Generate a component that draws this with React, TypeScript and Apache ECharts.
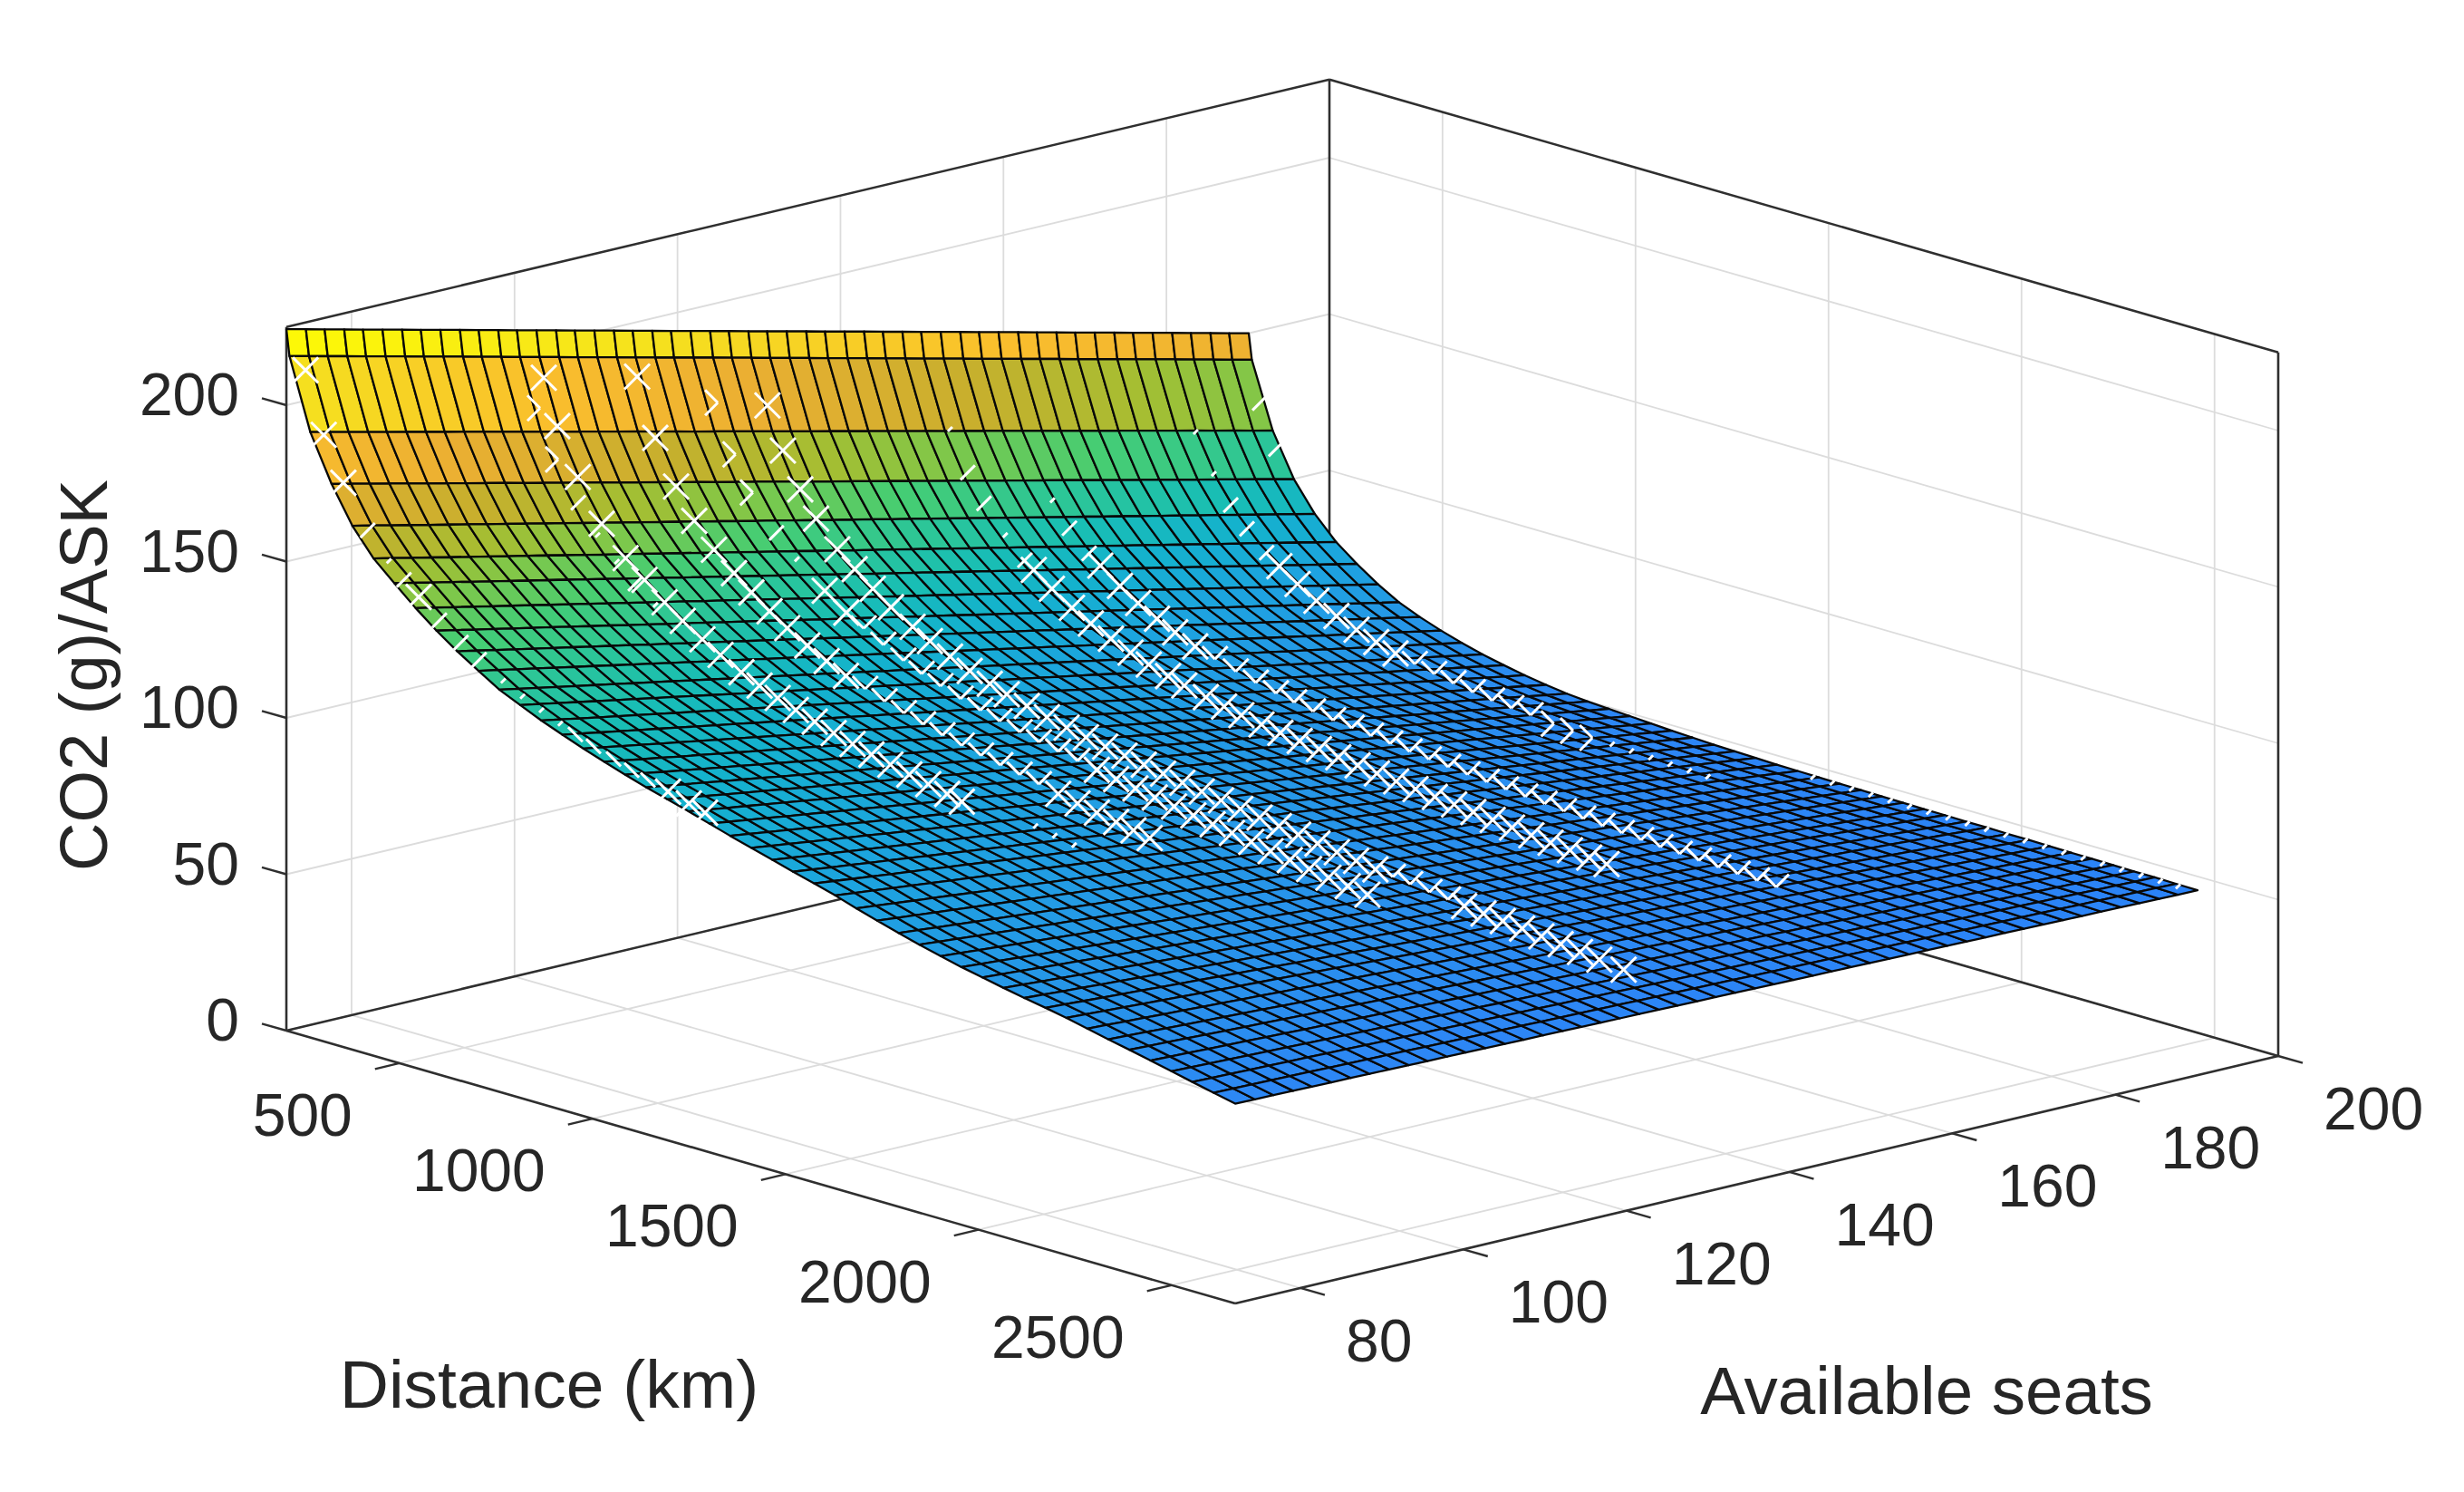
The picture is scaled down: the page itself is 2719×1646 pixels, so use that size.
import React, { useEffect, useRef } from "react";
import * as echarts from "echarts";

// Tick labels
const distanceTicks = [500, 1000, 1500, 2000, 2500];
const seatTicks = [80, 100, 120, 140, 160, 180, 200];
const co2Ticks = [0, 50, 100, 150, 200];

// Axis limits
const distanceLimits = [207, 2665];
const seatLimits = [72, 200];
const co2Max = 225;

// Surface rows (km) and columns (seats)
const surfaceDistances = [207, 215, 269, 324, 378, 433, 487, 542, 596, 650, 705, 759, 813, 868, 922, 977, 1031, 1085, 1140, 1194, 1249, 1303, 1357, 1412, 1466, 1520, 1575, 1629, 1684, 1738, 1793, 1847, 1902, 1956, 2010, 2065, 2119, 2174, 2228, 2282, 2337, 2391, 2446, 2500, 2554, 2609, 2665];
const surfaceSeats = [72, 74.4, 76.7, 79.1, 81.4, 83.8, 86.2, 88.5, 90.9, 93.3, 95.6, 98, 100.3, 102.7, 105.1, 107.4, 109.8, 112.2, 114.5, 116.9, 119.2, 121.6, 124, 126.3, 128.7, 131, 133.4, 135.8, 138.1, 140.5, 142.9, 145.2, 147.6, 149.9, 152.3, 154.7, 157, 159.4, 161.8, 164.1, 166.5, 168.8, 171.2, 173.6, 175.9, 178.3, 180.7, 183, 185.4, 187.7, 190.1];
// CO2 read along the two long edges of the surface; rows are straight between these readings
const co2AtFewestSeats = [224.3, 216, 193.6, 179, 167.5, 159, 153, 147, 141.7, 137, 132.7, 128.6, 125.6, 122.6, 120, 117.5, 115.2, 113, 110.9, 109, 107.1, 105.1, 103.1, 101.2, 99.3, 97.4, 95.6, 93.7, 91.5, 89.5, 87.5, 85.7, 84, 82.4, 81, 79.6, 78.3, 77.1, 75.8, 74.3, 72.8, 71.4, 69.9, 68.4, 66.9, 65.4, 63.9];
const co2AtMostSeats = [150, 141.8, 121.1, 107.5, 98.3, 91.3, 86.2, 81.6, 77.8, 75, 72.6, 70.6, 68.8, 67.3, 66, 64.9, 64, 63.4, 63, 62.6, 62.2, 61.8, 61.5, 61.2, 61, 60.8, 60.6, 60.5, 60.4, 60.3, 60.2, 60.1, 60, 59.9, 59.9, 59.8, 59.8, 59.7, 59.7, 59.6, 59.5, 59.5, 59.4, 59.3, 59.3, 59.2, 59.1];

// Flight markers: one list per aircraft seat count. Mode letters give the visible part of each cross.
const seatsA = 73.5;
const distA = [225, 272, 323, 386, 440, 480, 518, 572, 628, 675, 736, 786, 835, 884, 924, 971, 1023, 1070, 1112, 1164, 1218, 1260];
const modeA = "XXX/./X///....\\\\\\\\\\XXX";
const seatsBp = 101;
const distBp = [252, 299, 351, 400, 450, 499, 550];
const modeBp = "LL/../.";
const seatsB = 102.5;
const distB = [230, 265, 318, 380, 442, 491, 543, 590, 641, 688, 742, 789, 836, 883, 932, 981, 1030, 1079, 1128, 1177, 1226, 1275, 1313];
const modeB = "XXXXXXXXXXXXXXXXXXXXXXX";
const seatsStray = 105;
const distStray = [1450, 1500, 1550];
const modeStray = "...";
const seatsC = 114;
const distC = [229, 276, 330, 377, 428, 480, 525, 572, 618, 670, 720, 770, 820, 870, 920, 970, 1020, 1070, 1120, 1170, 1220, 1270, 1320, 1370, 1420, 1470, 1515, 1557];
const modeC = "XXXXXXXXXXXXVVVVVVVVVVXXXXXX";
const seatsDp = 123;
const distDp = [248, 294, 339, 400, 452, 525, 581, 626, 677, 729, 776, 825, 877, 928, 978, 1030, 1080, 1130, 1180, 1230, 1280, 1330, 1380, 1430, 1480, 1530, 1580, 1630, 1680, 1730, 1780, 1830, 1880, 1931];
const modeDp = "LLL/.XXVVVVVVVVVVVVXXXXXXXXXXXXXXX";
const seatsD = 129;
const distD = [250, 290, 335, 376, 431, 476, 523, 570, 626, 671, 723, 774, 826, 870, 922, 974, 1025, 1075, 1125, 1175, 1225, 1275, 1325, 1375, 1425, 1475, 1525, 1575, 1625, 1675, 1725, 1775, 1825, 1870, 1915, 1965, 2013, 2055, 2105, 2155, 2205, 2255, 2305, 2355, 2405, 2468];
const modeD = "XXXXXXXXXXXXXXXXXXXXXXXXXXXXXXXXXVVVVXXXXXXXXX";
const seatsE = 150.5;
const distE = [268, 315, 357, 411, 463, 486, 533, 585, 634, 686, 737, 784, 834, 876, 932, 979, 1024, 1076, 1125, 1175, 1225, 1275, 1325, 1375, 1425, 1475, 1525, 1575, 1625, 1675, 1725, 1775, 1825, 1875, 1925, 1970];
const modeE = ".//./XXXXXXXXXXXXXXXXXXXXXXXXXXXXXXX";
const seatsF = 159;
const distF = [354, 399, 450, 479, 530, 577, 626, 673, 725, 776, 830, 882, 934, 981, 1030, 1082, 1130, 1180, 1230, 1280, 1330, 1380, 1430, 1480, 1530, 1580, 1630, 1680, 1730, 1780, 1830, 1880, 1930, 1980, 2030, 2080, 2130, 2180, 2230];
const modeF = ".//XXXXXXVVVVVVVVVVVVVVVVVVVVVVVVVVVVVV";
const seatsG = 180.5;
const distG = [271, 318, 363, 405, 456, 489, 536, 585, 637, 689, 740, 790, 840, 890, 940, 990, 1040, 1090, 1140, 1200, 1250, 1300, 1350, 1400, 1450, 1500, 1550, 1598];
const modeG = "..///XXXXXXXVVVVVVVLLL......";
const seatsH = 189.5;
const distH = [248, 290, 1680, 1730, 1780, 1830, 1880, 1930, 1980, 2030, 2080, 2130, 2180, 2230, 2280, 2330, 2380, 2430, 2480, 2530, 2580, 2626];
const modeH = "//....................";

const markerSets: [number, number[], string][] = [
  [seatsA, distA, modeA], [seatsBp, distBp, modeBp], [seatsB, distB, modeB], [seatsStray, distStray, modeStray],
  [seatsC, distC, modeC], [seatsDp, distDp, modeDp], [seatsD, distD, modeD], [seatsE, distE, modeE],
  [seatsF, distF, modeF], [seatsG, distG, modeG], [seatsH, distH, modeH],
];

// Colour ramp: [value, r, g, b]
const colourRamp = [
  [55, 41, 128, 250], [64, 45, 135, 245], [78, 38, 150, 232], [95, 28, 165, 222], [108, 20, 178, 205],
  [118, 25, 190, 180], [128, 45, 198, 150], [138, 70, 205, 115], [147, 125, 200, 75], [155, 165, 190, 50],
  [165, 200, 175, 45], [178, 235, 175, 50], [190, 250, 190, 45], [205, 245, 225, 30], [224, 255, 255, 0],
];

// Fixed orthographic view of the box, in page pixels
const view = { x0: 316, y0: 1137, xD: 1047, yD: 301, xS: 1151, yS: -273, zScale: 3.45 };

function project(d: number, s: number, z: number): [number, number] {
  const u = (d - distanceLimits[0]) / (distanceLimits[1] - distanceLimits[0]);
  const v = (s - seatLimits[0]) / (seatLimits[1] - seatLimits[0]);
  return [view.x0 + view.xD * u + view.xS * v, view.y0 + view.yD * u + view.yS * v - view.zScale * z];
}

function surfaceAt(i: number, j: number) {
  const f = j / (surfaceSeats.length - 1);
  return co2AtFewestSeats[i] + (co2AtMostSeats[i] - co2AtFewestSeats[i]) * f;
}

function surfaceLookup(d: number, s: number) {
  let i = 0;
  while (i < surfaceDistances.length - 2 && surfaceDistances[i + 1] < d) i++;
  const t = (d - surfaceDistances[i]) / (surfaceDistances[i + 1] - surfaceDistances[i]);
  const low = co2AtFewestSeats[i] + (co2AtFewestSeats[i + 1] - co2AtFewestSeats[i]) * t;
  const high = co2AtMostSeats[i] + (co2AtMostSeats[i + 1] - co2AtMostSeats[i]) * t;
  const f = (s - surfaceSeats[0]) / (surfaceSeats[surfaceSeats.length - 1] - surfaceSeats[0]);
  return low + (high - low) * f;
}

function rampColour(c: number) {
  const r = colourRamp;
  if (c <= r[0][0]) return `rgb(${r[0][1]},${r[0][2]},${r[0][3]})`;
  for (let k = 0; k < r.length - 1; k++) {
    if (c <= r[k + 1][0]) {
      const t = (c - r[k][0]) / (r[k + 1][0] - r[k][0]);
      const m = (a: number) => Math.round(r[k][a] + (r[k + 1][a] - r[k][a]) * t);
      return `rgb(${m(1)},${m(2)},${m(3)})`;
    }
  }
  const l = r[r.length - 1];
  return `rgb(${l[1]},${l[2]},${l[3]})`;
}

const GRID = "#dcdcdc";
const BOX = "#2f2f2f";
const INK = "#262626";
const FONT = '"Liberation Sans", Arial, sans-serif';

type Seg = [[number, number, number], [number, number, number], string, number];

function buildSegments(): Seg[] {
  const [d0, d1] = distanceLimits;
  const [s0, s1] = seatLimits;
  const out: Seg[] = [];
  const grid = (a: [number, number, number], b: [number, number, number]) => out.push([a, b, GRID, 1.8]);
  co2Ticks.forEach((z) => {
    grid([d0, s0, z], [d0, s1, z]);
    grid([d0, s1, z], [d1, s1, z]);
  });
  seatTicks.forEach((s) => {
    grid([d0, s, 0], [d1, s, 0]);
    grid([d0, s, 0], [d0, s, co2Max]);
  });
  distanceTicks.forEach((d) => {
    grid([d, s0, 0], [d, s1, 0]);
    grid([d, s1, 0], [d, s1, co2Max]);
  });
  const box = (a: [number, number, number], b: [number, number, number]) => out.push([a, b, BOX, 2.6]);
  box([d0, s0, 0], [d0, s1, 0]);
  box([d0, s1, 0], [d1, s1, 0]);
  box([d0, s0, 0], [d1, s0, 0]);
  box([d1, s0, 0], [d1, s1, 0]);
  box([d0, s0, 0], [d0, s0, co2Max]);
  box([d0, s1, 0], [d0, s1, co2Max]);
  box([d1, s1, 0], [d1, s1, co2Max]);
  box([d0, s0, co2Max], [d0, s1, co2Max]);
  box([d0, s1, co2Max], [d1, s1, co2Max]);
  return out;
}

type Label = { text: string; at: [number, number, number]; dx: number; dy: number; align: string; size: number };

function buildLabels(): Label[] {
  const [d0] = distanceLimits;
  const [s0] = seatLimits;
  const out: Label[] = [];
  co2Ticks.forEach((z) => out.push({ text: String(z), at: [d0, s0, z], dx: -52, dy: -12, align: "right", size: 66 }));
  distanceTicks.forEach((d) => out.push({ text: String(d), at: [d, s0, 0], dx: -52, dy: 57, align: "right", size: 66 }));
  seatTicks.forEach((s) => out.push({ text: String(s), at: [distanceLimits[1], s, 0], dx: 50, dy: 58, align: "left", size: 66 }));
  return out;
}

export default function App() {
  const ref = useRef<HTMLDivElement>(null);
  useEffect(() => {
    document.body.style.margin = "0";
    const chart = echarts.init(ref.current!, undefined, { renderer: "svg" });
    const segments = buildSegments();
    const labels = buildLabels();
    const ticks: [[number, number, number], number, number][] = [];
    co2Ticks.forEach((z) => ticks.push([[distanceLimits[0], seatLimits[0], z], -27, -7.7]));
    distanceTicks.forEach((d) => ticks.push([[d, seatLimits[0], 0], -27, 6.5]));
    seatTicks.forEach((s) => ticks.push([[distanceLimits[1], s, 0], 27, 7.7]));

    const cells: number[][] = [];
    for (let i = 0; i < surfaceDistances.length - 1; i++)
      for (let j = 0; j < surfaceSeats.length - 1; j++) cells.push([i, j]);

    const markers: [number, number, string][] = [];
    markerSets.forEach(([s, ds, m]) => ds.forEach((d, k) => markers.push([d, s, m[k] || "X"])));

    const titles = [
      { text: "CO2 (g)/ASK", x: 92, y: 745, rotation: Math.PI / 2, size: 74 },
      { text: "Distance (km)", x: 606, y: 1527, rotation: 0, size: 75 },
      { text: "Available seats", x: 2126, y: 1534, rotation: 0, size: 74.5 },
    ];

    chart.setOption({
      animation: false,
      backgroundColor: "#ffffff",
      grid: { left: 0, right: 0, top: 0, bottom: 0, containLabel: false },
      xAxis: { type: "value", min: 0, max: 2719, show: false },
      yAxis: { type: "value", min: 0, max: 1646, inverse: true, show: false },
      series: [
        {
          type: "custom", coordinateSystem: "cartesian2d", silent: true, clip: false, z: 1,
          data: segments.map((_, k) => [k, 0]),
          renderItem: (p: any, api: any) => {
            const [a, b, col, w] = segments[p.dataIndex];
            const A = api.coord(project(a[0], a[1], a[2]));
            const B = api.coord(project(b[0], b[1], b[2]));
            return { type: "line", shape: { x1: A[0], y1: A[1], x2: B[0], y2: B[1] }, style: { stroke: col, lineWidth: w } };
          },
        },
        {
          type: "custom", coordinateSystem: "cartesian2d", silent: true, clip: false, z: 1,
          data: ticks.map((_, k) => [k, 0]),
          renderItem: (p: any, api: any) => {
            const [a, dx, dy] = ticks[p.dataIndex];
            const A = api.coord(project(a[0], a[1], a[2]));
            return { type: "line", shape: { x1: A[0], y1: A[1], x2: A[0] + dx, y2: A[1] + dy }, style: { stroke: BOX, lineWidth: 2.4 } };
          },
        },
        {
          type: "custom", coordinateSystem: "cartesian2d", silent: true, clip: false, z: 2,
          data: cells,
          renderItem: (p: any, api: any) => {
            const [i, j] = cells[p.dataIndex];
            const pt = (a: number, b: number) =>
              api.coord(project(surfaceDistances[a], surfaceSeats[b], surfaceAt(a, b)));
            const zMean = (surfaceAt(i, j) + surfaceAt(i, j + 1) + surfaceAt(i + 1, j) + surfaceAt(i + 1, j + 1)) / 4;
            const f = (j + 0.5) / (surfaceSeats.length - 1);
            const gain = i === 0 ? 0.38 : 0.2;
            const c = zMean + f * Math.max(0, co2AtMostSeats[i] - 60) * gain;
            return {
              type: "polygon",
              shape: { points: [pt(i, j), pt(i, j + 1), pt(i + 1, j + 1), pt(i + 1, j)] },
              style: { fill: rampColour(c), stroke: "#080808", lineWidth: 2.3, lineJoin: "round" },
            };
          },
        },
        {
          type: "custom", coordinateSystem: "cartesian2d", silent: true, clip: false, z: 3,
          data: markers.map((_, k) => [k, 0]),
          renderItem: (p: any, api: any) => {
            const [d, s, mode] = markers[p.dataIndex];
            const [cx, cy] = api.coord(project(d, s, surfaceLookup(d, s)));
            const h = 14;
            const seg = (x1: number, y1: number, x2: number, y2: number) => ({
              type: "line",
              shape: { x1: cx + x1, y1: cy + y1, x2: cx + x2, y2: cy + y2 },
              style: { stroke: "#ffffff", lineWidth: 3 },
            });
            let children: any[];
            if (mode === "X") children = [seg(-h, -h, h, h), seg(-h, h, h, -h)];
            else if (mode === "V") children = [seg(-h, -h, 0, 0), seg(0, 0, h, -h)];
            else if (mode === "L") children = [seg(-h, -h, 0, 0), seg(0, 0, -h, h)];
            else if (mode === "/") children = [seg(-8, 8, 8, -8)];
            else if (mode === "\\") children = [seg(-8, -8, 8, 8)];
            else children = [seg(-2, 2, 3, -3)];
            return { type: "group", children };
          },
        },
        {
          type: "custom", coordinateSystem: "cartesian2d", silent: true, clip: false, z: 4,
          data: labels.map((_, k) => [k, 0]),
          renderItem: (p: any, api: any) => {
            const l = labels[p.dataIndex];
            const A = api.coord(project(l.at[0], l.at[1], l.at[2]));
            return {
              type: "text", x: A[0] + l.dx, y: A[1] + l.dy,
              style: { text: l.text, fill: INK, font: `${l.size}px ${FONT}`, align: l.align, verticalAlign: "middle" },
            };
          },
        },
        {
          type: "custom", coordinateSystem: "cartesian2d", silent: true, clip: false, z: 4,
          data: titles.map((_, k) => [k, 0]),
          renderItem: (p: any, api: any) => {
            const t = titles[p.dataIndex];
            const A = api.coord([t.x, t.y]);
            return {
              type: "text", x: A[0], y: A[1], rotation: t.rotation,
              style: { text: t.text, fill: INK, font: `${t.size}px ${FONT}`, align: "center", verticalAlign: "middle" },
            };
          },
        },
      ],
    });
    return () => chart.dispose();
  }, []);
  return <div ref={ref} style={{ position: "absolute", left: 0, top: 0, width: 2719, height: 1646 }} />;
}
